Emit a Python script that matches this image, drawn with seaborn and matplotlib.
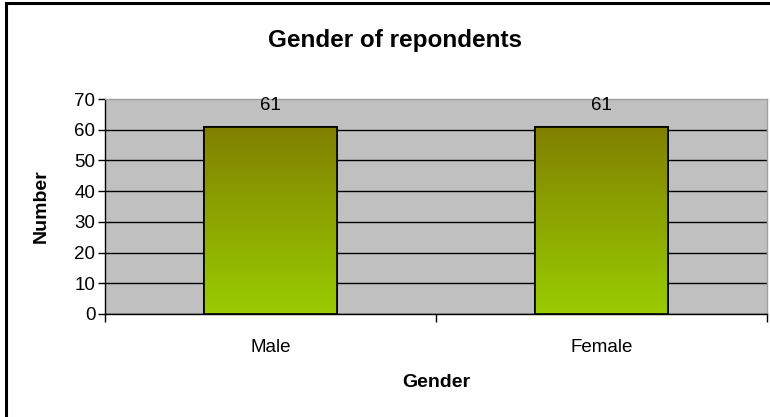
import numpy as np
import pandas as pd
import matplotlib
matplotlib.use('Agg')
import matplotlib.pyplot as plt
import matplotlib.patches as mpatches
from matplotlib.colors import LinearSegmentedColormap
import seaborn as sns

# Data.
genders = ['Male', 'Female']
counts = [61, 61]
yticks = [0, 10, 20, 30, 40, 50, 60, 70]

sns.set_style('white')
plt.rcParams['font.family'] = ['Liberation Sans', 'DejaVu Sans']
plt.rcParams['text.color'] = 'black'
plt.rcParams['axes.labelcolor'] = 'black'
plt.rcParams['xtick.color'] = 'black'
plt.rcParams['ytick.color'] = 'black'

df = pd.DataFrame({'Gender': genders, 'Number': counts})

fig = plt.figure(figsize=(7.7, 4.17), dpi=100)
ax = fig.add_axes([105 / 770, 1 - 314 / 417, 662 / 770, 215 / 417])
ax.set_facecolor('#c0c0c0')

sns.barplot(data=df, x='Gender', y='Number', width=0.4,
            color='#99cc00', edgecolor='black', linewidth=1.2,
            ax=ax, zorder=3)

# Vertical gradient fill, olive at top to yellow-green at bottom.
cmap = LinearSegmentedColormap.from_list('bar', ['#99cc00', '#808000'])
grad = np.linspace(0, 1, 256).reshape(-1, 1)
for patch in ax.patches:
    x0, y0 = patch.get_x(), patch.get_y()
    w, h = patch.get_width(), patch.get_height()
    im = ax.imshow(grad, cmap=cmap, origin='lower', aspect='auto',
                   extent=[x0, x0 + w, y0, y0 + h], zorder=3.5)
    im.set_clip_path(patch)
    edge = mpatches.Rectangle((x0, y0), w, h, fill=False,
                              edgecolor='black', linewidth=1.2, zorder=4)
    ax.add_patch(edge)
ax.set_xlim(-0.5, len(genders) - 0.5)
ax.set_ylim(yticks[0], yticks[-1])
ax.set_yticks(yticks)

# Value labels above bars.
for i, v in enumerate(counts):
    ax.annotate(str(v), (i, v), xytext=(0, 15), textcoords='offset points',
                ha='center', va='center', fontsize=13.5, zorder=5)

# Black gridlines except at the top.
ax.yaxis.grid(True, color='black', linewidth=1)
ax.set_axisbelow(True)
for gl in ax.yaxis.get_gridlines()[-1:]:
    gl.set_visible(False)

for s in ['top', 'right']:
    ax.spines[s].set_color('#a0a0a0')
    ax.spines[s].set_linewidth(1)
for s in ['left', 'bottom']:
    ax.spines[s].set_color('black')
    ax.spines[s].set_linewidth(1)

# Category ticks at the boundaries, labels centred under bars.
ax.set_xticks([-0.5, 0.5, 1.5], minor=False)
ax.set_xticklabels(['', '', ''])
ax.set_xticks([0, 1], minor=True)
ax.set_xticklabels(genders, minor=True, fontsize=13.5)
ax.tick_params(axis='x', which='major', direction='out', length=6,
               color='black', width=1, bottom=True)
ax.tick_params(axis='x', which='minor', length=0, pad=18)
ax.tick_params(axis='y', direction='out', length=5, color='black',
               width=1, left=True, labelsize=13.5, pad=2)

ax.set_xlabel('Gender', fontsize=14, fontweight='bold')
ax.set_ylabel('Number', fontsize=14, fontweight='bold')
ax.xaxis.set_label_coords(0.5, -0.279)
ax.yaxis.set_label_coords(-0.083, 0.5)

fig.text(395 / 770, 1 - 40 / 417, 'Gender of repondents', ha='center',
         va='center', fontsize=17.5, fontweight='bold')

# Chart border.
border = mpatches.Rectangle((6 / 770, -0.1), 1.2, 1 - 3 / 417 + 0.1,
                            transform=fig.transFigure, fill=False,
                            edgecolor='black', linewidth=2.2, zorder=10)
fig.patches.append(border)

fig.savefig('out.png', dpi=100)
